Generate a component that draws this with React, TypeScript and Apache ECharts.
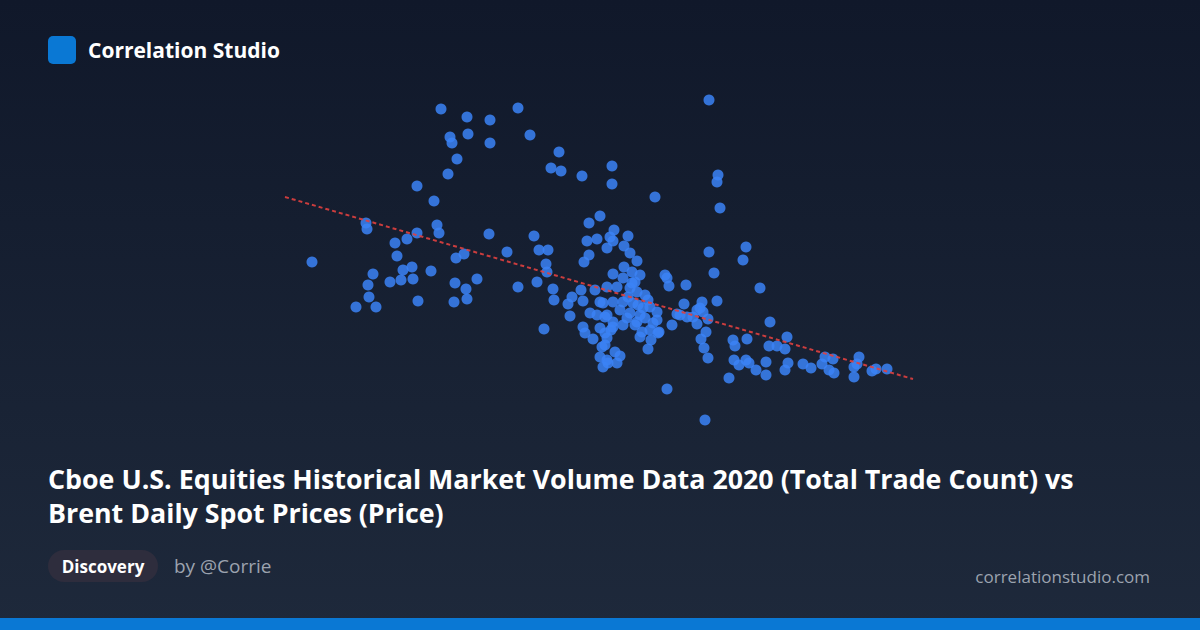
import React, { useEffect, useRef } from "react";
import * as echarts from "echarts";

// Total trade count (millions) for each day
const tradeCount: number[] = [
  8.82, 9.34, 9.8, 9.0, 9.04, 9.36, 9.8, 9.14, 8.96, 8.34, 8.68, 7.32, 7.34, 8.74, 8.78, 8.34, 9.78, 8.14, 7.9, 6.24,
  7.94, 9.12, 9.28, 7.46, 8.06, 8.24, 8.62, 7.8, 8.02, 8.26, 7.36, 7.38, 7.12, 7.52, 8.36, 9.1, 9.32, 9.54, 9.08, 9.34,
  14.18, 10.36, 10.6, 11.18, 11.02, 11.22, 11.64, 12.24, 12.24, 13.1, 14.36, 14.34, 14.4, 12.0, 11.78, 12.28,
  10.68, 10.14, 10.78, 10.96, 10.92, 10.94, 10.74, 10.36, 11.06, 11.08, 10.88, 11.74, 11.94, 12.14, 12.2, 12.26, 12.56,
  12.48, 12.6, 12.74, 11.78, 11.68, 14.18, 14.28, 13.3, 13.34, 13.38, 13.72, 14.34, 13.68, 14.04,
  11.44, 11.36, 11.66, 11.62, 11.4, 11.66, 11.7, 11.86, 11.8, 12.0, 11.9, 12.0, 12.14, 12.1, 12.04, 12.0, 12.14, 12.06,
  12.48, 12.26, 12.64, 12.8, 12.46, 12.34, 12.14, 12.6, 12.74, 12.96, 12.86, 12.6, 12.46, 12.26, 12.06, 11.94, 12.1,
  12.26, 12.46, 12.74, 13.14, 13.14, 13.0, 13.44, 13.6, 12.84, 12.66, 12.8, 12.54, 12.26, 12.7, 12.8, 13.16, 12.96,
  12.3, 12.1, 12.16, 12.34, 13.06, 12.4, 13.0, 13.54, 13.74, 13.94, 14.0, 14.06, 14.16, 14.12, 14.02, 14.08, 14.16,
  13.18, 13.02, 12.22, 12.14,
  14.92, 14.86, 15.2, 13.86, 13.94, 15.4, 15.74, 14.66, 14.7, 14.94, 15.38, 15.54, 15.7, 14.68, 14.78, 14.92, 14.98,
  15.32, 15.12, 15.32, 14.58, 15.76, 15.7, 16.06, 16.22, 16.44, 16.5, 16.66, 16.58, 16.68, 17.08, 17.14, 17.18, 17.08,
  17.44, 17.52, 17.74, 14.1, 13.34, 12.7, 12.9, 12.56, 12.76, 12.4, 12.9, 12.64,
];

// Brent daily spot price (USD) for the same days
const brentPrice: number[] = [
  68.2, 66.6, 66.0, 62.6, 61.4, 63.2, 61.4, 58.2, 55.2, 52.8, 49.8, 45.4, 44.2, 45.0, 43.4, 43.4, 43.2, 42.2, 41.4, 37.6,
  38.8, 38.4, 39.2, 35.2, 36.0, 36.6, 35.8, 33.6, 34.0, 34.2, 33.0, 30.6, 28.6, 28.6, 29.8, 33.4, 32.2, 34.2, 29.6, 30.2,
  70.0, 68.4, 63.0, 59.6, 56.4, 55.8, 54.8, 56.8, 53.2, 50.6, 55.0, 53.6, 48.4, 46.8, 45.4, 44.0,
  42.8, 39.6, 40.0, 40.0, 37.2, 35.6, 33.6, 32.6, 32.2, 30.0, 24.2, 41.8, 42.2, 40.4, 42.6, 41.8, 42.8,
  40.8, 39.4, 37.8, 39.0, 37.6, 39.6, 35.4, 35.0, 34.4, 32.8, 33.0, 29.8, 29.2, 29.6,
  30.6, 29.2, 29.8, 32.0, 26.8, 24.6, 23.4, 22.2, 27.4, 24.4, 32.0, 29.6, 27.0, 23.4, 20.6, 18.6, 18.0, 16.6,
  36.6, 35.2, 35.6, 35.0, 34.4, 32.6, 32.6, 32.4, 31.6, 30.0, 28.4, 27.4, 29.6, 29.6, 29.4, 27.0, 26.6,
  25.6, 25.0, 25.6, 27.6, 26.0, 24.0, 25.0, 27.0, 23.6, 29.4, 27.0, 26.4, 24.6, 25.0, 22.6, 23.4, 20.2,
  19.6, 21.0, 17.4, 17.4, 25.4, 18.8, 28.6, 27.2, 26.6, 28.0, 28.4, 27.6, 26.2, 23.6, 22.2, 20.4, 18.4,
  23.6, 22.0, 24.0, 22.4,
  40.6, 38.0, 32.4, 26.6, 25.2, 25.6, 22.6, 22.0, 20.8, 22.2, 20.8, 20.8, 20.2, 18.0, 17.0, 18.0, 17.4,
  17.6, 16.0, 15.0, 14.4, 17.4, 16.0, 17.2, 16.4, 17.2, 18.6, 18.2, 16.0, 15.4, 16.6, 17.2, 18.6, 14.6,
  15.8, 16.2, 16.2, 6.0, 12.2, 33.6, 31.0, 30.6, 29.0, 28.0, 26.4, 33.4,
];

// Fitted trend line end points
const trendX: number[] = [5.7, 18.26];
const trendY: number[] = [50.6, 14.2];

const titleLines: string[] = [
  "Cboe U.S. Equities Historical Market Volume Data 2020 (Total Trade Count) vs",
  "Brent Daily Spot Prices (Price)",
];

const FONT = "'Segoe UI', 'Open Sans', 'Noto Sans', sans-serif";

export default function App() {
  const ref = useRef<HTMLDivElement>(null);

  useEffect(() => {
    if (!ref.current) return;
    const chart = echarts.init(ref.current, undefined, { renderer: "svg" });
    const points = tradeCount.map((x, i) => [x, brentPrice[i]]);
    const trend = trendX.map((x, i) => [x, trendY[i]]);

    chart.setOption({
      animation: false,
      backgroundColor: "transparent",
      grid: { left: 250, right: 250, top: 80, bottom: 180 },
      xAxis: { type: "value", min: 5, max: 19, show: false },
      yAxis: { type: "value", min: 0, max: 74, show: false },
      graphic: [
        {
          type: "rect",
          z: -10,
          silent: true,
          shape: { x: 0, y: 0, width: 1200, height: 630 },
          style: {
            fill: new echarts.graphic.LinearGradient(0, 0, 0, 1, [
              { offset: 0, color: "#10182a" },
              { offset: 1, color: "#1e293b" },
            ]),
          },
        },
        {
          type: "rect",
          shape: { x: 48, y: 36, width: 28, height: 28, r: 5 },
          style: { fill: "#0a78d4" },
        },
        {
          type: "text",
          x: 88,
          y: 50,
          style: {
            text: "Correlation Studio",
            fill: "#ffffff",
            font: `bold 21px ${FONT}`,
            textVerticalAlign: "middle",
          },
        },
        {
          type: "text",
          x: 48,
          y: 478,
          style: {
            text: titleLines[0],
            fill: "#ffffff",
            font: `bold 26.8px ${FONT}`,
            textVerticalAlign: "middle",
          },
        },
        {
          type: "text",
          x: 48,
          y: 512,
          style: {
            text: titleLines[1],
            fill: "#ffffff",
            font: `bold 26.8px ${FONT}`,
            textVerticalAlign: "middle",
          },
        },
        {
          type: "rect",
          shape: { x: 48, y: 550, width: 110, height: 32, r: 16 },
          style: { fill: "#2e2d3d" },
        },
        {
          type: "text",
          x: 103,
          y: 566,
          style: {
            text: "Discovery",
            fill: "#ffffff",
            font: `bold 17px ${FONT}`,
            textAlign: "center",
            textVerticalAlign: "middle",
          },
        },
        {
          type: "text",
          x: 174,
          y: 566,
          style: {
            text: "by @Corrie",
            fill: "#9ca3af",
            font: `19px ${FONT}`,
            textVerticalAlign: "middle",
          },
        },
        {
          type: "text",
          x: 1150,
          y: 576,
          style: {
            text: "correlationstudio.com",
            fill: "#9ca3af",
            font: `17px ${FONT}`,
            textAlign: "right",
            textVerticalAlign: "middle",
          },
        },
        {
          type: "rect",
          shape: { x: 0, y: 618, width: 1200, height: 12 },
          style: { fill: "#0a78d4" },
        },
      ],
      series: [
        {
          type: "scatter",
          data: points,
          symbolSize: 11,
          clip: false,
          itemStyle: { color: "#3b82f6", opacity: 0.85 },
          z: 2,
        },
        {
          type: "line",
          data: trend,
          symbol: "none",
          z: 3,
          lineStyle: { color: "#e0403f", width: 2, type: [4, 3], opacity: 0.9 },
        },
      ],
    });

    return () => chart.dispose();
  }, []);

  return (
    <div
      ref={ref}
      style={{ position: "absolute", left: 0, top: 0, width: 1200, height: 630 }}
    />
  );
}
